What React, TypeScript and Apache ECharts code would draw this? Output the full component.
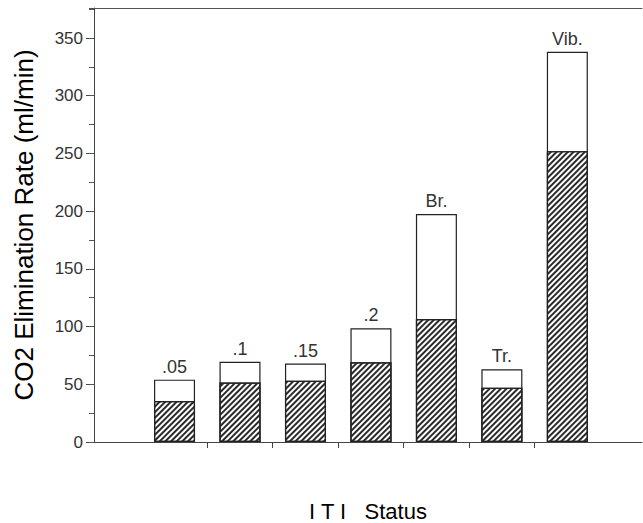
import React, { useEffect, useRef } from "react";
import * as echarts from "echarts";

const categories = [".05", ".1", ".15", ".2", "Br.", "Tr.", "Vib."];
const positions = [1, 2, 3, 4, 5, 6, 7];
const totalValues = [54, 69.5, 68, 98.5, 197.5, 63, 338];
const hatchedValues = [35.5, 51.5, 53, 69, 106.5, 47, 252];
const yTicks = [0, 50, 100, 150, 200, 250, 300, 350];
const xTickValues = [1.5, 2.5, 3.5, 4.5, 5.5, 6.5];

const FONT = "'Liberation Sans', Arial, Helvetica, sans-serif";

export default function App() {
  const ref = useRef<HTMLDivElement>(null);
  useEffect(() => {
    document.body.style.margin = "0";
    if (!ref.current) return;
    const chart = echarts.init(ref.current, undefined, { renderer: "svg" });
    const xMin = -0.23;
    const xMax = 8.14;
    const yMax = 376;
    chart.setOption({
      animation: false,
      backgroundColor: "#fff",
      textStyle: { fontFamily: FONT },
      grid: { left: 94, right: 1, top: 8, bottom: 81, containLabel: false, outerBoundsMode: "none" },
      xAxis: [
        {
          type: "value",
          min: xMin,
          max: xMax,
          position: "bottom",
          name: "I T I   Status",
          nameLocation: "middle",
          nameGap: 58,
          nameTextStyle: { fontSize: 22, color: "#000", fontFamily: FONT },
          axisLine: { show: true, onZero: false, lineStyle: { color: "#444", width: 1 } },
          axisTick: { show: true, customValues: xTickValues, length: 6, lineStyle: { color: "#444" } },
          axisLabel: { show: false },
          splitLine: { show: false },
        },
        {
          type: "value",
          min: xMin,
          max: xMax,
          position: "top",
          axisLine: { show: true, onZero: false, lineStyle: { color: "#555", width: 1 } },
          axisTick: { show: false },
          axisLabel: { show: false },
          splitLine: { show: false },
        },
      ],
      yAxis: [
        {
          type: "value",
          min: 0,
          max: yMax,
          interval: 50,
          position: "left",
          name: "CO2 Elimination Rate (ml/min)",
          nameLocation: "middle",
          nameGap: 57,
          nameTextStyle: { fontSize: 26, color: "#000", fontFamily: FONT },
          axisLine: { show: true, onZero: false, lineStyle: { color: "#444", width: 1 } },
          axisTick: { show: true, length: 8, lineStyle: { color: "#444" } },
          axisLabel: {
            fontSize: 17,
            color: "#333",
            margin: 11,
            showMaxLabel: false,
            formatter: (v: number) => (yTicks.includes(v) ? String(v) : ""),
          },
          splitLine: { show: false },
        },
        {
          type: "value",
          min: 0,
          max: yMax,
          interval: 25,
          position: "left",
          axisLine: { show: false, onZero: false },
          axisTick: { show: true, length: 5, lineStyle: { color: "#555" } },
          axisLabel: { show: false },
          splitLine: { show: false },
        },
      ],
      series: [
        {
          type: "bar",
          xAxisIndex: 0,
          yAxisIndex: 0,
          barWidth: 41,
          barGap: "-100%",
          data: positions.map((p, i) => ({ value: [p, totalValues[i]], name: categories[i] })),
          itemStyle: { color: "#fff", borderColor: "#222", borderWidth: 1.2 },
          label: {
            show: true,
            position: "top",
            distance: 4,
            fontSize: 18,
            color: "#333",
            fontFamily: FONT,
            formatter: (p: any) => categories[p.dataIndex],
          },
          z: 2,
        },
        {
          type: "bar",
          xAxisIndex: 0,
          yAxisIndex: 0,
          barWidth: 41,
          barGap: "-100%",
          data: positions.map((p, i) => [p, hatchedValues[i]]),
          itemStyle: {
            color: "#fff",
            borderColor: "#222",
            borderWidth: 1.2,
            decal: {
              symbol: "rect",
              symbolSize: 1,
              dashArrayX: [1, 0],
              dashArrayY: [1.2, 1.8],
              rotation: -Math.PI / 4,
              color: "#2a2a2a",
              backgroundColor: "#fff",
            },
          },
          z: 3,
        },
      ],
    });
    return () => chart.dispose();
  }, []);
  return <div ref={ref} style={{ width: 643, height: 523 }} />;
}
